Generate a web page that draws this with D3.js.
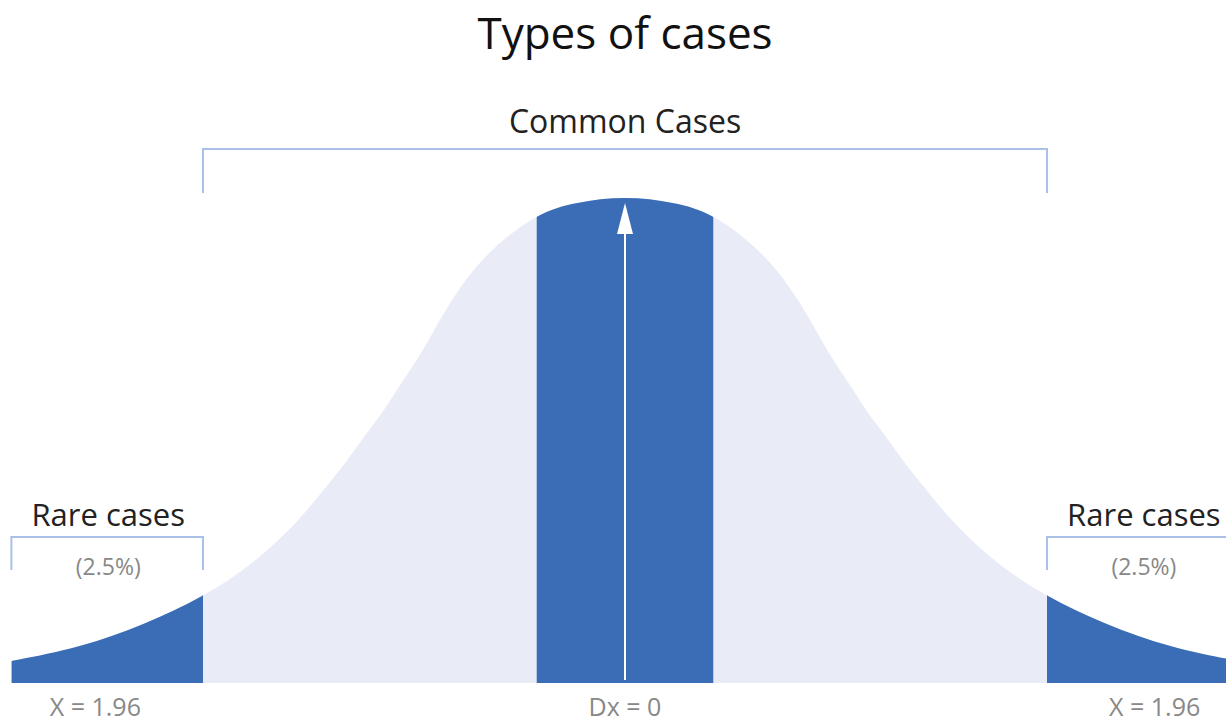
<!DOCTYPE html>
<html>
<head>
<meta charset="utf-8">
<script src="https://cdn.jsdelivr.net/npm/d3@7"></script>
<style>
  html, body { margin: 0; padding: 0; background: #fff; }
  svg { display: block; }
  text { font-family: "Open Sans", Lato, sans-serif; }
</style>
</head>
<body>
<svg id="chart" width="1226" height="724"></svg>
<script>
// ---- data ----
const curveZ = [-2.85, -2.53, -2.23, -1.96, -1.72, -1.51, -1.42, -1.29, -1.20, -1.12, -1.05, -0.96, -0.89, -0.80, -0.65, -0.41, -0.23,
                0, 0.23, 0.41, 0.65, 0.80, 0.89, 0.96, 1.05, 1.12, 1.20, 1.29, 1.42, 1.51, 1.72, 1.96, 2.23, 2.53, 2.85];
const curveDensity = [0.018, 0.029, 0.048, 0.0705, 0.098, 0.134, 0.154, 0.182, 0.205, 0.223, 0.243, 0.266, 0.288, 0.316, 0.352, 0.385, 0.394,
                      0.399, 0.394, 0.385, 0.352, 0.316, 0.288, 0.266, 0.243, 0.223, 0.205, 0.182, 0.154, 0.134, 0.098, 0.0705, 0.048, 0.029, 0.018];

const regionNames = ["Rare (left)", "Center", "Rare (right)"];
const regionStart = [-2.85, -0.41, 1.96];
const regionEnd   = [-1.96, 0.41, 2.85];

const titleText = "Types of cases";
const commonLabel = "Common Cases";
const commonRange = [-1.96, 1.96];
const rareLabels = ["Rare cases", "Rare cases"];
const rareLabelZ = [-2.40, 2.41];
const rarePctLabels = ["(2.5%)", "(2.5%)"];
const rareRanges = [[-2.85, -1.96], [1.96, 2.85]];
const axisLabels = ["X = 1.96", "Dx = 0", "X = 1.96"];
const axisLabelZ = [-2.46, 0, 2.46];

// ---- drawing ----
const svg = d3.select("#chart");
const x = d3.scaleLinear().domain([-1.96, 1.96]).range([203, 1047]);
const y = d3.scaleLinear().domain([0, 0.399]).range([683, 196]);

const pts = curveZ.map((z, i) => ({ z, d: curveDensity[i] }));
const area = d3.area()
  .x(p => x(p.z))
  .y0(y(0))
  .y1(p => y(p.d))
  .curve(d3.curveBasis);

const lightColor = "#E9ECF7";
const darkColor = "#3A6DB5";
const bracketColor = "#A9C1E7";

svg.append("path").attr("d", area(pts)).attr("fill", lightColor);

const defs = svg.append("defs");
regionNames.forEach((name, i) => {
  defs.append("clipPath").attr("id", "clip" + i)
    .append("rect")
    .attr("x", x(regionStart[i]))
    .attr("y", 0)
    .attr("width", x(regionEnd[i]) - x(regionStart[i]))
    .attr("height", 724);
  svg.append("path").attr("d", area(pts))
    .attr("fill", darkColor)
    .attr("clip-path", `url(#clip${i})`);
});

// arrow at the mean
svg.append("line")
  .attr("x1", x(0)).attr("x2", x(0))
  .attr("y1", y(0) - 3).attr("y2", 230)
  .attr("stroke", "#fff").attr("stroke-width", 2);
svg.append("path")
  .attr("d", `M${x(0)},203 L${x(0) + 8},234 L${x(0) - 8},234 Z`)
  .attr("fill", "#fff");

// brackets
function bracket(z0, z1, yTop, yBottom) {
  const p = d3.path();
  p.moveTo(x(z0), yBottom);
  p.lineTo(x(z0), yTop);
  p.lineTo(x(z1), yTop);
  p.lineTo(x(z1), yBottom);
  svg.append("path").attr("d", p.toString())
    .attr("fill", "none").attr("stroke", bracketColor).attr("stroke-width", 2);
}
bracket(commonRange[0], commonRange[1], 149, 193);
rareRanges.forEach(r => bracket(r[0], r[1], 537, 570));

// texts
svg.append("text").attr("x", x(0)).attr("y", 49)
  .attr("text-anchor", "middle").attr("font-size", 44).attr("fill", "#111")
  .text(titleText);

svg.append("text").attr("x", x(0)).attr("y", 133)
  .attr("text-anchor", "middle").attr("font-size", 32).attr("fill", "#222")
  .text(commonLabel);

rareLabels.forEach((t, i) => {
  svg.append("text").attr("x", x(rareLabelZ[i])).attr("y", 526)
    .attr("text-anchor", "middle").attr("font-size", 31).attr("fill", "#222")
    .text(t);
  svg.append("text").attr("x", x(rareLabelZ[i])).attr("y", 575)
    .attr("text-anchor", "middle").attr("font-size", 23).attr("fill", "#888")
    .text(rarePctLabels[i]);
});

axisLabels.forEach((t, i) => {
  svg.append("text").attr("x", x(axisLabelZ[i])).attr("y", 716)
    .attr("text-anchor", "middle").attr("font-size", 25).attr("fill", "#888")
    .text(t);
});
</script>
</body>
</html>
